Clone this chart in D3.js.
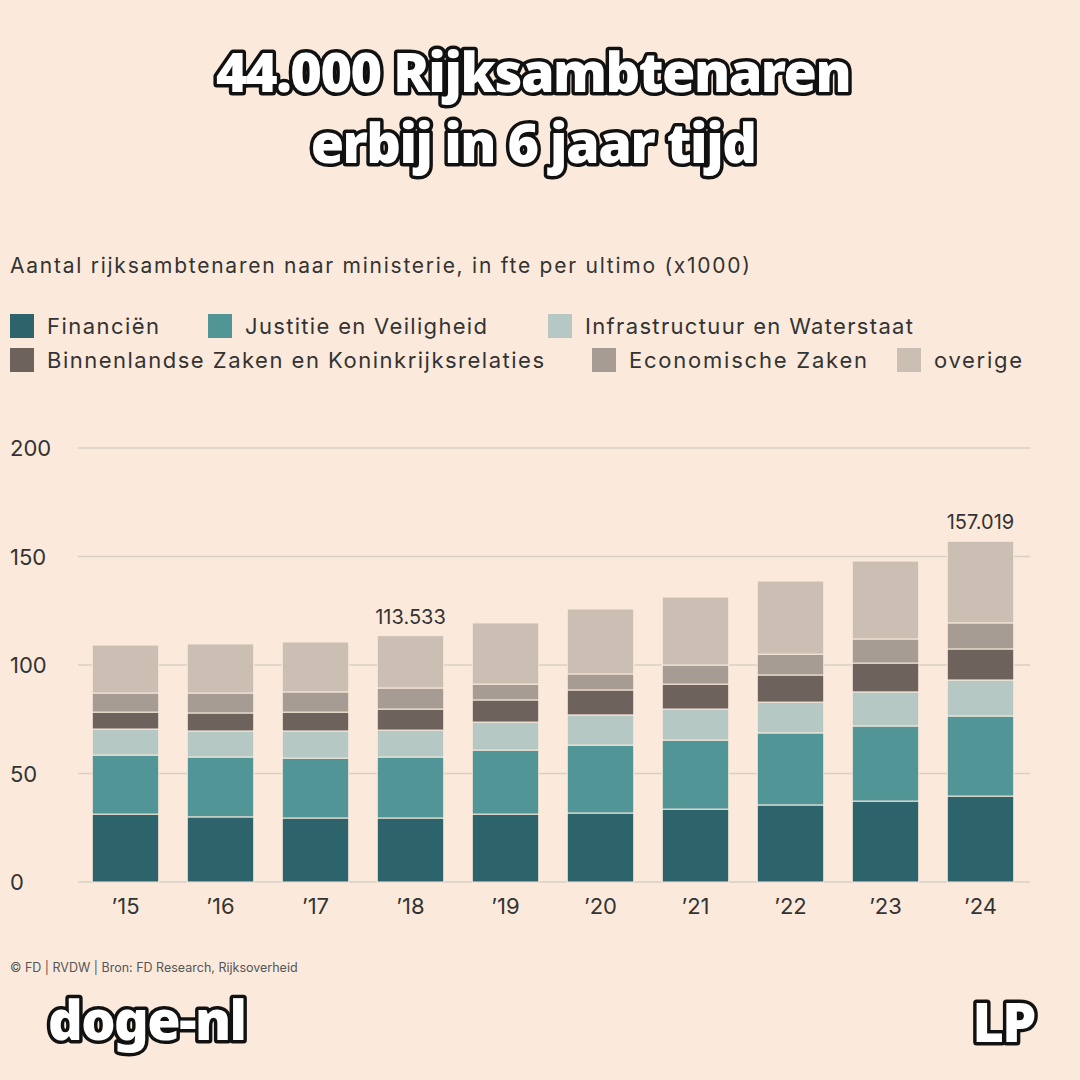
<!DOCTYPE html>
<html><head><meta charset="utf-8">
<script src="https://cdn.jsdelivr.net/npm/d3@7"></script>
<style>body{margin:0;background:#fbeadc}svg{display:block}</style>
</head><body><svg id="c" width="1080" height="1080"></svg>
<script>
const years = ["’15","’16","’17","’18","’19","’20","’21","’22","’23","’24"];
const seriesNames = ["Financiën","Justitie en Veiligheid","Infrastructuur en Waterstaat","Binnenlandse Zaken en Koninkrijksrelaties","Economische Zaken","overige"];
const colors = ["#2d636b","#519597","#b5c8c4","#6e625c","#a79c94","#cbbfb4"];
const financien = [31.3,30,29.5,29.5,31.3,31.8,33.6,35.5,37.3,39.6];
const justitie = [27.2,27.6,27.6,28.1,29.5,31.3,31.8,33.2,34.6,36.9];
const infra = [12,12,12.5,12.4,12.9,13.9,14.3,14.2,15.7,16.6];
const bzk = [7.8,8.3,8.7,9.7,10.2,11.5,11.5,12.5,13.3,14.3];
const ez = [8.8,9.2,9.3,9.7,7.3,7.4,8.8,9.6,11.1,12];
const totals = [109.2,109.7,110.6,113.533,119.4,125.8,131.3,138.7,147.9,157.019];
const yTicks = [0,50,100,150,200];
const labels = {3:"113.533",9:"157.019"};

const overige = totals.map((t,i)=>t-financien[i]-justitie[i]-infra[i]-bzk[i]-ez[i]);
const cols = [financien,justitie,infra,bzk,ez,overige];
const rows = years.map((y,i)=>{const o={year:y};seriesNames.forEach((s,j)=>o[s]=cols[j][i]);return o;});
const stack = d3.stack().keys(seriesNames)(rows);
const F = "Inter";

const svg = d3.select("#c");
svg.append("rect").attr("width",1080).attr("height",1080).attr("fill","#fbeadc");
const x = d3.scaleBand().domain(years).range([78,1028]).paddingInner(0.3).paddingOuter(0.15);
const y = d3.scaleLinear().domain([0,200]).range([882,448]);

const title = ["44.000 Rijksambtenaren","erbij in 6 jaar tijd"];
title.forEach((t,i)=>svg.append("text").attr("x",533).attr("y",92+i*71).attr("text-anchor","middle")
 .attr("font-family","Noto Sans").attr("font-weight",900).attr("font-size",54)
 .attr("fill","#fff").attr("stroke","#111").attr("stroke-width",7).attr("paint-order","stroke")
 .attr("stroke-linejoin","round").attr("letter-spacing",-1.5).text(t));

svg.append("text").attr("x",10).attr("y",273).attr("font-family",F).attr("font-size",21).attr("fill","#333")
 .attr("textLength",740).attr("lengthAdjust","spacing")
 .text("Aantal rijksambtenaren naar ministerie, in fte per ultimo (x1000)");

const legPos = [[10,326],[208,326],[548,326],[10,360],[592,360],[897,360]];
const legLen = [112,242,328,497,238,88];
seriesNames.forEach((s,i)=>{
  const g = svg.append("g").attr("transform",`translate(${legPos[i][0]},${legPos[i][1]})`);
  g.append("rect").attr("x",0).attr("y",-12).attr("width",24).attr("height",24).attr("fill",colors[i]);
  g.append("text").attr("x",37).attr("y",8).attr("font-family",F).attr("font-size",22).attr("fill","#333")
   .attr("textLength",legLen[i]).attr("lengthAdjust","spacing").text(s);
});

yTicks.forEach(t=>{
  svg.append("line").attr("x1",78).attr("x2",1030).attr("y1",y(t)).attr("y2",y(t)).attr("stroke","#d9cfc6").attr("stroke-width",1.5);
  svg.append("text").attr("x",10).attr("y",y(t)+8).attr("font-family",F).attr("font-size",22).attr("fill","#333").text(t);
});

stack.forEach((layer,j)=>{
  svg.append("g").selectAll("rect").data(layer).join("rect")
   .attr("x",d=>x(d.data.year)).attr("width",x.bandwidth())
   .attr("y",d=>y(d[1])).attr("height",d=>y(d[0])-y(d[1]))
   .attr("fill",colors[j]).attr("stroke","#fbeadc").attr("stroke-width",1);
});

svg.append("g").selectAll("text").data(years).join("text")
 .attr("x",d=>x(d)+x.bandwidth()/2).attr("y",914).attr("text-anchor","middle")
 .attr("font-family",F).attr("font-size",22).attr("fill","#333").text(d=>d);

Object.entries(labels).forEach(([i,l])=>{
  svg.append("text").attr("x",x(years[i])+x.bandwidth()/2).attr("y",y(totals[i])-12).attr("text-anchor","middle")
   .attr("font-family",F).attr("font-size",20).attr("fill","#333").text(l);
});

svg.append("text").attr("x",10).attr("y",972).attr("font-family",F).attr("font-size",12.5).attr("fill","#555")
 .text("© FD | RVDW | Bron: FD Research, Rijksoverheid");

[["doge-nl",48,1040,"start"],["LP",1035,1042,"end"]].forEach(([t,xx,yy,a])=>
 svg.append("text").attr("x",xx).attr("y",yy).attr("text-anchor",a)
 .attr("font-family","Noto Sans").attr("font-weight",900).attr("font-size",54)
 .attr("fill","#fff").attr("stroke","#111").attr("stroke-width",7).attr("paint-order","stroke")
 .attr("stroke-linejoin","round").attr("letter-spacing",-1.5).text(t));
</script></body></html>
